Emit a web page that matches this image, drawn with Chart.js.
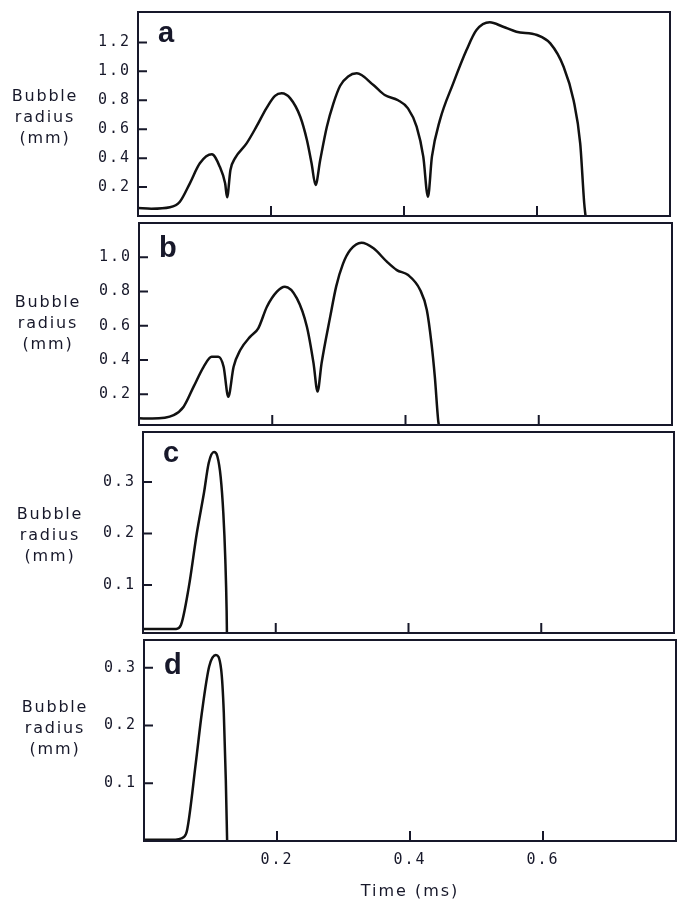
<!DOCTYPE html>
<html>
<head>
<meta charset="utf-8">
<title>Bubble radius</title>
<script src="https://cdn.jsdelivr.net/npm/chart.js@4/dist/chart.umd.min.js"></script>
<style>
  body { margin: 0; background: #fff; }
  #wrap { position: relative; width: 681px; height: 901px; }
  canvas { position: absolute; left: 0; }
</style>
</head>
<body>
<div id="wrap">
  <canvas id="panelA" width="681" height="219" style="top:0px"></canvas>
  <canvas id="panelB" width="681" height="209" style="top:219px"></canvas>
  <canvas id="panelC" width="681" height="208" style="top:428px"></canvas>
  <canvas id="panelD" width="681" height="265" style="top:636px"></canvas>
</div>
<script>
// Datos
const timeA = [0, 0.02, 0.048, 0.063, 0.078, 0.093, 0.111, 0.123, 0.131, 0.134, 0.139, 0.146, 0.163, 0.178, 0.193, 0.206, 0.216, 0.229, 0.244, 0.254, 0.261, 0.267, 0.274, 0.284, 0.294, 0.304, 0.316, 0.329, 0.354, 0.371, 0.391, 0.406, 0.419, 0.429, 0.436, 0.442, 0.454, 0.474, 0.494, 0.509, 0.529, 0.549, 0.569, 0.6, 0.62, 0.64, 0.655, 0.665, 0.671, 0.673];
const radiusA = [0.055, 0.05, 0.06, 0.099, 0.226, 0.364, 0.426, 0.34, 0.226, 0.129, 0.318, 0.4, 0.5, 0.617, 0.744, 0.83, 0.848, 0.813, 0.686, 0.525, 0.364, 0.214, 0.387, 0.617, 0.78, 0.9, 0.965, 0.986, 0.905, 0.836, 0.8, 0.744, 0.617, 0.41, 0.133, 0.41, 0.663, 0.917, 1.147, 1.285, 1.339, 1.308, 1.274, 1.251, 1.193, 1.032, 0.8, 0.5, 0.088, 0];

const timeB = [0, 0.02, 0.052, 0.067, 0.082, 0.097, 0.109, 0.119, 0.127, 0.134, 0.142, 0.152, 0.167, 0.179, 0.192, 0.207, 0.219, 0.237, 0.252, 0.262, 0.268, 0.274, 0.287, 0.296, 0.306, 0.317, 0.334, 0.352, 0.372, 0.387, 0.404, 0.422, 0.432, 0.439, 0.444, 0.449, 0.45];
const radiusB = [0.059, 0.058, 0.078, 0.127, 0.244, 0.36, 0.419, 0.419, 0.36, 0.185, 0.36, 0.458, 0.536, 0.585, 0.711, 0.799, 0.828, 0.76, 0.594, 0.38, 0.215, 0.38, 0.653, 0.83, 0.96, 1.042, 1.085, 1.052, 0.974, 0.925, 0.896, 0.809, 0.692, 0.497, 0.302, 0.049, 0.02];

const timeC = [0, 0.05, 0.057, 0.069, 0.081, 0.092, 0.099, 0.107, 0.112, 0.117, 0.121, 0.124, 0.126, 0.1265];
const radiusC = [0.015, 0.015, 0.022, 0.096, 0.2, 0.28, 0.337, 0.358, 0.35, 0.31, 0.24, 0.15, 0.05, 0];

const timeD = [0, 0.042, 0.06, 0.065, 0.078, 0.087, 0.098, 0.108, 0.116, 0.12, 0.123, 0.125];
const radiusD = [0.002, 0.002, 0.007, 0.02, 0.136, 0.222, 0.302, 0.322, 0.297, 0.222, 0.107, 0];

// Ticks
const ticksA = [0.2, 0.4, 0.6, 0.8, 1.0, 1.2];
const ticksB = [0.2, 0.4, 0.6, 0.8, 1.0];
const ticksC = [0.1, 0.2, 0.3];
const ticksD = [0.1, 0.2, 0.3];
const timeTicks = [0.2, 0.4, 0.6];

const sideLabel = ["Bubble", "radius", "(mm)"];
const timeTitle = "Time (ms)";

const ink = "#17182a";

// Marco, marcas interiores, letra del panel y etiqueta lateral
const panelDecor = {
    id: "panelDecor",
    beforeDraw(chart) {
        chart.ctx.letterSpacing = "2px";
    },
    afterDatasetsDraw(chart, args, opts) {
        const ctx = chart.ctx;
        const area = chart.chartArea;
        const xs = chart.scales.x;
        const ys = chart.scales.y;

        ctx.save();
        ctx.strokeStyle = ink;
        ctx.lineWidth = 2;
        ctx.strokeRect(area.left, area.top, area.right - area.left, area.bottom - area.top);

        ctx.beginPath();
        ys.ticks.forEach(t => {
            const py = ys.getPixelForValue(t.value);
            ctx.moveTo(area.left, py);
            ctx.lineTo(area.left + 9, py);
        });
        xs.ticks.forEach(t => {
            const px = xs.getPixelForValue(t.value);
            ctx.moveTo(px, area.bottom);
            ctx.lineTo(px, area.bottom - 10);
        });
        ctx.stroke();

        ctx.fillStyle = ink;
        ctx.letterSpacing = "0px";
        ctx.font = "bold 29px 'Liberation Sans'";
        ctx.textAlign = "left";
        ctx.textBaseline = "alphabetic";
        ctx.fillText(opts.letter, area.left + 20, area.top + opts.letterY);

        ctx.letterSpacing = "1.8px";
        ctx.font = "16px 'DejaVu Sans'";
        ctx.textAlign = "center";
        ctx.textBaseline = "middle";
        sideLabel.forEach((s, i) => {
            ctx.fillText(s, opts.labelX, area.top + opts.labelY + i * 21);
        });
        ctx.restore();
    }
};

function makePanel(id, time, radius, yTicks, yMin, yMax, g) {
    const points = time.map((t, i) => ({ x: t, y: radius[i] }));

    return new Chart(document.getElementById(id), {
        type: "line",
        data: {
            datasets: [{
                data: points,
                borderColor: "#111",
                borderWidth: 2.5,
                pointRadius: 0,
                fill: false,
                cubicInterpolationMode: "monotone"
            }]
        },
        options: {
            responsive: false,
            animation: false,
            layout: { padding: { top: g.top, bottom: g.bottom, left: 0, right: 681 - g.right } },
            plugins: {
                legend: { display: false },
                tooltip: { enabled: false },
                panelDecor: { letter: g.letter, letterY: g.letterY, labelX: g.labelX, labelY: g.labelY }
            },
            scales: {
                x: {
                    type: "linear",
                    min: 0,
                    max: 0.8,
                    afterBuildTicks: s => { s.ticks = timeTicks.map(v => ({ value: v })); },
                    afterFit: s => {
                        s.height = g.showTime ? 60 : 0;
                        s.paddingLeft = 0;
                        s.paddingRight = 0;
                    },
                    grid: { display: false, drawTicks: false },
                    border: { display: false },
                    ticks: {
                        display: g.showTime,
                        padding: 10,
                        color: ink,
                        font: { family: "DejaVu Sans Mono", size: 15 },
                        callback: v => v.toFixed(1)
                    },
                    title: {
                        display: g.showTime,
                        text: timeTitle,
                        color: ink,
                        padding: 0,
                        font: { family: "DejaVu Sans", size: 16 }
                    }
                },
                y: {
                    type: "linear",
                    min: yMin,
                    max: yMax,
                    afterBuildTicks: s => { s.ticks = yTicks.map(v => ({ value: v })); },
                    afterFit: s => {
                        s.width = g.left;
                        s.paddingTop = 0;
                        s.paddingBottom = 0;
                    },
                    grid: { display: false, drawTicks: false },
                    border: { display: false },
                    ticks: {
                        padding: 7,
                        color: ink,
                        font: { family: "DejaVu Sans Mono", size: 15 },
                        callback: v => v.toFixed(1)
                    }
                }
            }
        },
        plugins: [panelDecor]
    });
}

makePanel("panelA", timeA, radiusA, ticksA, 0, 1.41,
    { left: 138, right: 670, top: 12, bottom: 3, letter: "a", letterY: 30, labelX: 45, labelY: 85, showTime: false });
makePanel("panelB", timeB, radiusB, ticksB, 0.02, 1.2,
    { left: 139, right: 672, top: 4, bottom: 3, letter: "b", letterY: 34, labelX: 48, labelY: 80, showTime: false });
makePanel("panelC", timeC, radiusC, ticksC, 0.007, 0.397,
    { left: 143, right: 674, top: 4, bottom: 3, letter: "c", letterY: 30, labelX: 50, labelY: 83, showTime: false });
makePanel("panelD", timeD, radiusD, ticksD, 0, 0.348,
    { left: 144, right: 676, top: 4, bottom: 0, letter: "d", letterY: 34, labelX: 55, labelY: 68, showTime: true });
</script>
</body>
</html>
